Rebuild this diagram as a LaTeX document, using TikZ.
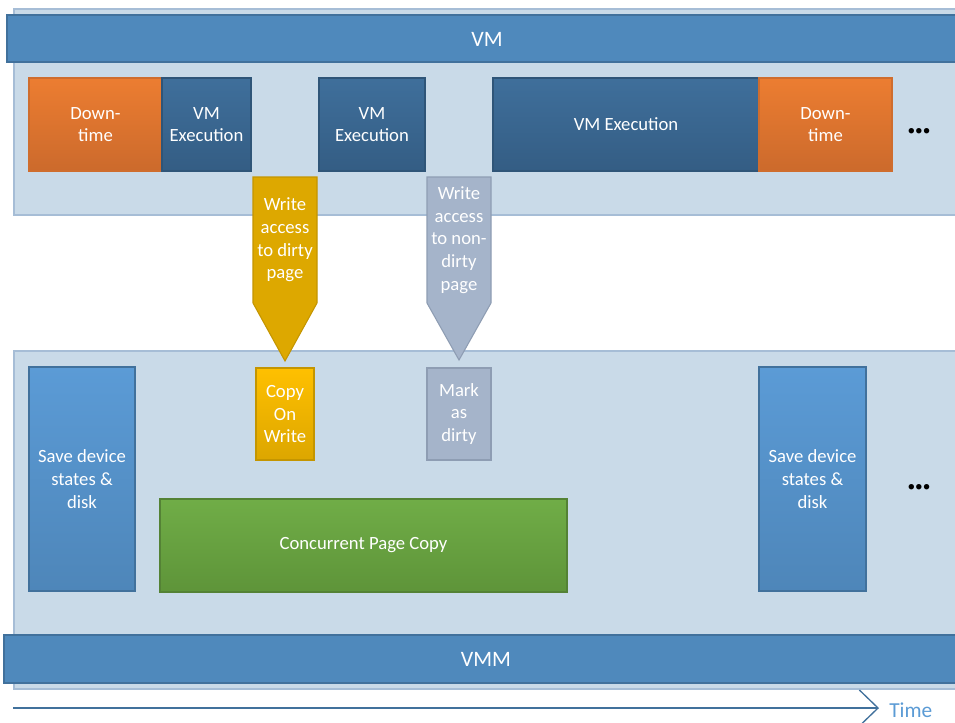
\documentclass[tikz,border=0pt]{standalone}
\usepackage{fontspec}
\setmainfont{Carlito}
\usetikzlibrary{arrows.meta}
\definecolor{panelfill}{HTML}{C9DAE8}
\definecolor{panelline}{HTML}{A6BDD6}
\definecolor{barfill}{HTML}{4F89BC}
\definecolor{barline}{HTML}{41719C}
\definecolor{orangeA}{HTML}{EC7D31}
\definecolor{orangeB}{HTML}{CC6A2C}
\definecolor{orangeline}{HTML}{CF6D2E}
\definecolor{execA}{HTML}{3F6F9B}
\definecolor{execB}{HTML}{345D84}
\definecolor{execline}{HTML}{2F5578}
\definecolor{yelfill}{HTML}{DDA800}
\definecolor{yelline}{HTML}{C49500}
\definecolor{yelA}{HTML}{FFC000}
\definecolor{yelB}{HTML}{DCA600}
\definecolor{grayfill}{HTML}{A5B4CA}
\definecolor{grayline}{HTML}{8E9DB3}
\definecolor{saveA}{HTML}{5B9BD6}
\definecolor{saveB}{HTML}{4E86B9}
\definecolor{greenA}{HTML}{70AD47}
\definecolor{greenB}{HTML}{5E9439}
\definecolor{greenline}{HTML}{548235}
\definecolor{timeline}{HTML}{41719C}
\definecolor{timetext}{HTML}{5B9BD5}
\begin{document}
\begin{tikzpicture}[x=0.75pt,y=-0.75pt,
  box/.style={inner sep=0pt, text=white, align=center, font=\fontsize{14}{17}\selectfont, line width=0.8pt},
  sz/.style 2 args={minimum width=#1*0.75pt, minimum height=#2*0.75pt},
  panel/.style={inner sep=0pt, fill=panelfill, draw=panelline, line width=1pt},
  bar/.style={inner sep=0pt, fill=barfill, draw=barline, line width=1pt},
  barlabel/.style={text=white, font=\fontsize{16.5}{20}\selectfont},
  downbox/.style={box, top color=orangeA, bottom color=orangeB, draw=orangeline},
  execbox/.style={box, top color=execA, bottom color=execB, draw=execline},
  cowbox/.style={box, top color=yelA, bottom color=yelB, draw=yelline},
  markbox/.style={box, fill=grayfill, draw=grayline},
  savebox/.style={box, top color=saveA, bottom color=saveB, draw=barline},
  greenbox/.style={box, top color=greenA, bottom color=greenB, draw=greenline},
  yelcallout/.style={fill=yelfill, draw=yelline, line width=0.8pt},
  graycallout/.style={fill=grayfill, draw=grayline, line width=0.8pt},
  dots/.style={inner sep=0pt, font=\fontsize{11.5}{12}\selectfont},
]
\clip (0,0) rectangle (955,722);
\fill[white] (0,0) rectangle (955,722);

% panels
\node[panel, sz={948}{206}] (toppanel) at (488,112) {};
\node[panel, sz={948}{338}] (botpanel) at (488,520) {};
\node[bar, sz={955}{47}] (vmbar) at (484.5,38.5) {};
\node[barlabel] (vmlabel) at (487,39) {VM};
\node[bar, sz={958}{48}] (vmmbar) at (483,659) {};
\node[barlabel] (vmmlabel) at (486,659) {VMM};

% top row
\node[downbox, sz={133}{93}] (down1) at (95.5,124.5) {Down-\\time};
\node[execbox, sz={89}{93}] (exec1) at (206.5,124.5) {VM\\Execution};
\node[execbox, sz={106}{93}] (exec2) at (372,124.5) {VM\\Execution};
\node[execbox, sz={266}{93}] (exec3) at (626,124.5) {VM Execution};
\node[downbox, sz={133}{93}] (down2) at (825.5,124.5) {Down-\\time};
\node[dots] (dots1) at (919,132) {•••};

% callouts
\draw[yelcallout] (253,177) -- (317,177) -- (317,303) -- (285,361) -- (253,303) -- cycle;
\node[box] (wdirty) at (285,240) {Write\\access\\to dirty\\page};
\draw[graycallout] (427,177) -- (491,177) -- (491,303) -- (459,360) -- (427,303) -- cycle;
\node[box] (wnondirty) at (459,240) {Write\\access\\to non-\\dirty\\page};

% bottom row
\node[savebox, sz={106}{224}] (save1) at (82,479) {Save device\\states \&\\disk};
\node[cowbox, sz={58}{92}] (cow) at (285,414) {Copy\\On\\Write};
\node[markbox, sz={64}{92}] (mark) at (459,414) {Mark\\as\\dirty};
\node[greenbox, sz={407}{93}] (conc) at (363.5,545.5) {\raisebox{-3pt}{Concurrent Page Copy}};
\node[savebox, sz={107}{224}] (save2) at (812.5,479) {Save device\\states \&\\disk};
\node[dots] (dots2) at (919,488) {•••};

% time axis
\coordinate (t0) at (13,708);
\coordinate (t1) at (879,708);
\draw[timeline, line width=1.5pt, -{Straight Barb[length=14pt, width=27pt, line width=1pt]}] (t0) -- (t1);
\node[anchor=west, inner sep=0pt, text=timetext, font=\fontsize{16}{18}\selectfont] (time) at (889,710) {Time};
\end{tikzpicture}
\end{document}
